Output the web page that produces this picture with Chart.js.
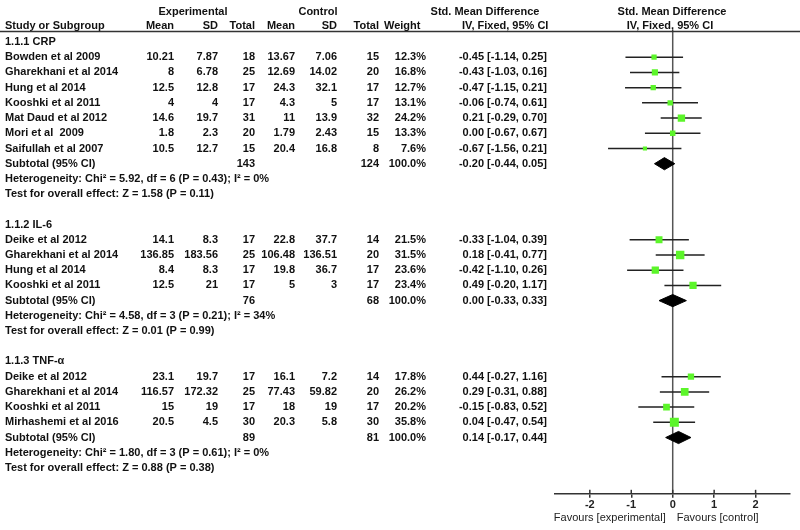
<!DOCTYPE html>
<html>
<head>
<meta charset="utf-8">
<script src="https://cdn.jsdelivr.net/npm/chart.js@4.4.1/dist/chart.umd.min.js"></script>
<style>
  html, body { margin: 0; padding: 0; background: #fff; }
  #wrap { width: 800px; height: 530px; position: relative; }
</style>
</head>
<body>
<div id="wrap"><canvas id="forest"></canvas></div>
<script>
  // Subgroups and studies
  const groupLabels = ['1.1.1 CRP', '1.1.2 IL-6', '1.1.3 TNF-α'];
  const studyGroup = [0, 0, 0, 0, 0, 0, 0, 1, 1, 1, 1, 2, 2, 2, 2];
  const studyNames = [
    'Bowden et al 2009', 'Gharekhani et al 2014', 'Hung et al 2014', 'Kooshki et al 2011',
    'Mat Daud et al 2012', 'Mori et al  2009', 'Saifullah et al 2007',
    'Deike et al 2012', 'Gharekhani et al 2014', 'Hung et al 2014', 'Kooshki et al 2011',
    'Deike et al 2012', 'Gharekhani et al 2014', 'Kooshki et al 2011', 'Mirhashemi et al 2016'
  ];
  const expMean = [10.21, 8, 12.5, 4, 14.6, 1.8, 10.5, 14.1, 136.85, 8.4, 12.5, 23.1, 116.57, 15, 20.5];
  const expSD = [7.87, 6.78, 12.8, 4, 19.7, 2.3, 12.7, 8.3, 183.56, 8.3, 21, 19.7, 172.32, 19, 4.5];
  const expTotal = [18, 25, 17, 17, 31, 20, 15, 17, 25, 17, 17, 17, 25, 17, 30];
  const ctlMean = [13.67, 12.69, 24.3, 4.3, 11, 1.79, 20.4, 22.8, 106.48, 19.8, 5, 16.1, 77.43, 18, 20.3];
  const ctlSD = [7.06, 14.02, 32.1, 5, 13.9, 2.43, 16.8, 37.7, 136.51, 36.7, 3, 7.2, 59.82, 19, 5.8];
  const ctlTotal = [15, 20, 17, 17, 32, 15, 8, 14, 20, 17, 17, 14, 20, 17, 30];
  const weights = [12.3, 16.8, 12.7, 13.1, 24.2, 13.3, 7.6, 21.5, 31.5, 23.6, 23.4, 17.8, 26.2, 20.2, 35.8];
  const smd = [-0.45, -0.43, -0.47, -0.06, 0.21, 0.00, -0.67, -0.33, 0.18, -0.42, 0.49, 0.44, 0.29, -0.15, 0.04];
  const ciLow = [-1.14, -1.03, -1.15, -0.74, -0.29, -0.67, -1.56, -1.04, -0.41, -1.10, -0.20, -0.27, -0.31, -0.83, -0.47];
  const ciHigh = [0.25, 0.16, 0.21, 0.61, 0.70, 0.67, 0.21, 0.39, 0.77, 0.26, 1.17, 1.16, 0.88, 0.52, 0.54];

  // Subtotals per subgroup
  const subExpTotal = [143, 76, 89];
  const subCtlTotal = [124, 68, 81];
  const subSmd = [-0.20, 0.00, 0.14];
  const subLow = [-0.44, -0.33, -0.17];
  const subHigh = [0.05, 0.33, 0.44];
  const heterogeneity = [
    'Heterogeneity: Chi² = 5.92, df = 6 (P = 0.43); I² = 0%',
    'Heterogeneity: Chi² = 4.58, df = 3 (P = 0.21); I² = 34%',
    'Heterogeneity: Chi² = 1.80, df = 3 (P = 0.61); I² = 0%'
  ];
  const overallTest = [
    'Test for overall effect: Z = 1.58 (P = 0.11)',
    'Test for overall effect: Z = 0.01 (P = 0.99)',
    'Test for overall effect: Z = 0.88 (P = 0.38)'
  ];
  const xTicks = [-2, -1, 0, 1, 2];

  // Row layout: header, studies, subtotal, heterogeneity, test, blank
  const groupRow = [], studyRow = [], subRow = [], hetRow = [], testRow = [];
  let r = 0;
  groupLabels.forEach((g, gi) => {
    groupRow[gi] = r++;
    studyGroup.forEach((sg, i) => { if (sg === gi) studyRow[i] = r++; });
    subRow[gi] = r++;
    hetRow[gi] = r++;
    testRow[gi] = r++;
    r++;
  });

  const FONT = '"Liberation Sans", Arial, sans-serif';
  const fmt2 = v => v.toFixed(2);
  const ciText = (e, lo, hi) => `${fmt2(e)} [${fmt2(lo)}, ${fmt2(hi)}]`;

  // right edges of the table columns
  const COL = { expMean: 174, expSD: 218, expN: 255, ctlMean: 295, ctlSD: 337, ctlN: 379, weight: 426, ci: 547 };

  // CI whiskers as one line dataset broken by gaps
  const ciData = [];
  smd.forEach((v, i) => {
    ciData.push({ x: ciLow[i], y: studyRow[i] });
    ciData.push({ x: ciHigh[i], y: studyRow[i] });
    ciData.push({ x: ciHigh[i], y: null });
  });

  const squareData = smd.map((v, i) => ({ x: v, y: studyRow[i] }));
  const squareRadius = weights.map(w => 1.06 * Math.sqrt(w));

  const diamondSets = subSmd.map((e, gi) => ({
    label: 'subtotal ' + gi,
    data: [
      { x: subLow[gi], y: subRow[gi] },
      { x: e, y: subRow[gi] - 0.4 },
      { x: subHigh[gi], y: subRow[gi] },
      { x: e, y: subRow[gi] + 0.4 },
      { x: subLow[gi], y: subRow[gi] }
    ],
    showLine: true,
    fill: 'shape',
    backgroundColor: '#000',
    borderColor: '#000',
    borderWidth: 1,
    pointRadius: 0,
    order: 2
  }));

  function text(ctx, s, x, y, align, bold) {
    ctx.font = (bold === false ? '' : 'bold ') + '11px ' + FONT;
    ctx.textAlign = align;
    ctx.textBaseline = 'middle';
    ctx.fillText(s, x, y);
  }

  const tablePlugin = {
    id: 'forestTable',
    afterDraw(chart) {
      const ctx = chart.ctx;
      const ys = chart.scales.y;
      const xs = chart.scales.x;
      const area = chart.chartArea;
      ctx.save();
      ctx.fillStyle = '#111';

      // column headers
      text(ctx, 'Experimental', 193, 12, 'center');
      text(ctx, 'Control', 318, 12, 'center');
      text(ctx, 'Std. Mean Difference', 485, 12, 'center');
      text(ctx, 'Std. Mean Difference', 672, 12, 'center');
      text(ctx, 'Study or Subgroup', 5, 26, 'left');
      text(ctx, 'Mean', COL.expMean, 26, 'right');
      text(ctx, 'SD', COL.expSD, 26, 'right');
      text(ctx, 'Total', COL.expN, 26, 'right');
      text(ctx, 'Mean', COL.ctlMean, 26, 'right');
      text(ctx, 'SD', COL.ctlSD, 26, 'right');
      text(ctx, 'Total', COL.ctlN, 26, 'right');
      text(ctx, 'Weight', 384, 26, 'left');
      text(ctx, 'IV, Fixed, 95% CI', 462, 26, 'left');
      text(ctx, 'IV, Fixed, 95% CI', 670, 26, 'center');

      ctx.strokeStyle = '#333';
      ctx.lineWidth = 1.3;
      ctx.beginPath();
      ctx.moveTo(0, 31.5);
      ctx.lineTo(800, 31.5);
      ctx.stroke();

      groupLabels.forEach((g, gi) => {
        text(ctx, g, 5, ys.getPixelForValue(groupRow[gi]), 'left');
        const sy = ys.getPixelForValue(subRow[gi]);
        text(ctx, 'Subtotal (95% CI)', 5, sy, 'left');
        text(ctx, String(subExpTotal[gi]), COL.expN, sy, 'right');
        text(ctx, String(subCtlTotal[gi]), COL.ctlN, sy, 'right');
        text(ctx, '100.0%', COL.weight, sy, 'right');
        text(ctx, ciText(subSmd[gi], subLow[gi], subHigh[gi]), COL.ci, sy, 'right');
        text(ctx, heterogeneity[gi], 5, ys.getPixelForValue(hetRow[gi]), 'left');
        text(ctx, overallTest[gi], 5, ys.getPixelForValue(testRow[gi]), 'left');
      });

      studyNames.forEach((n, i) => {
        const py = ys.getPixelForValue(studyRow[i]);
        text(ctx, n, 5, py, 'left');
        text(ctx, String(expMean[i]), COL.expMean, py, 'right');
        text(ctx, String(expSD[i]), COL.expSD, py, 'right');
        text(ctx, String(expTotal[i]), COL.expN, py, 'right');
        text(ctx, String(ctlMean[i]), COL.ctlMean, py, 'right');
        text(ctx, String(ctlSD[i]), COL.ctlSD, py, 'right');
        text(ctx, String(ctlTotal[i]), COL.ctlN, py, 'right');
        text(ctx, weights[i].toFixed(1) + '%', COL.weight, py, 'right');
        text(ctx, ciText(smd[i], ciLow[i], ciHigh[i]), COL.ci, py, 'right');
      });

      // upper half of the crossing tick marks
      ctx.strokeStyle = '#333';
      ctx.lineWidth = 1.5;
      xTicks.forEach(v => {
        const px = xs.getPixelForValue(v);
        ctx.beginPath();
        ctx.moveTo(px, area.bottom - 4);
        ctx.lineTo(px, area.bottom);
        ctx.stroke();
      });

      ctx.fillStyle = '#222';
      const zx = xs.getPixelForValue(0);
      text(ctx, 'Favours [experimental]', zx - 7, 518, 'right', false);
      text(ctx, 'Favours [control]', zx + 4, 518, 'left', false);
      ctx.restore();
    }
  };

  const yMin = -0.79, yMax = 29.7;

  new Chart(document.getElementById('forest'), {
    type: 'scatter',
    data: {
      datasets: [
        {
          label: 'studies',
          data: squareData,
          pointStyle: 'rect',
          pointRadius: squareRadius,
          backgroundColor: '#5cf52a',
          borderWidth: 0,
          order: 1
        },
        ...diamondSets,
        {
          label: 'ci',
          data: ciData,
          showLine: true,
          spanGaps: false,
          borderColor: '#222',
          borderWidth: 1.5,
          pointRadius: 0,
          order: 3
        },
        {
          label: 'no effect',
          data: [{ x: 0, y: yMin }, { x: 0, y: yMax }],
          showLine: true,
          borderColor: '#555',
          borderWidth: 1.5,
          pointRadius: 0,
          order: 4
        }
      ]
    },
    options: {
      responsive: true,
      maintainAspectRatio: false,
      animation: false,
      layout: { padding: { top: 30, left: 555, right: 10, bottom: 17 } },
      plugins: { legend: { display: false }, tooltip: { enabled: false } },
      scales: {
        x: {
          type: 'linear',
          min: -2.84,
          max: 2.83,
          afterBuildTicks: scale => { scale.ticks = xTicks.map(v => ({ value: v })); },
          grid: { drawOnChartArea: false, drawTicks: true, tickLength: 4, color: '#333', lineWidth: 1.5 },
          border: { color: '#333', width: 1.5 },
          ticks: { color: '#222', padding: 1, font: { family: FONT, size: 11, weight: 'bold' } }
        },
        y: {
          type: 'linear',
          display: false,
          reverse: true,
          min: yMin,
          max: yMax
        }
      }
    },
    plugins: [tablePlugin]
  });
</script>
</body>
</html>
